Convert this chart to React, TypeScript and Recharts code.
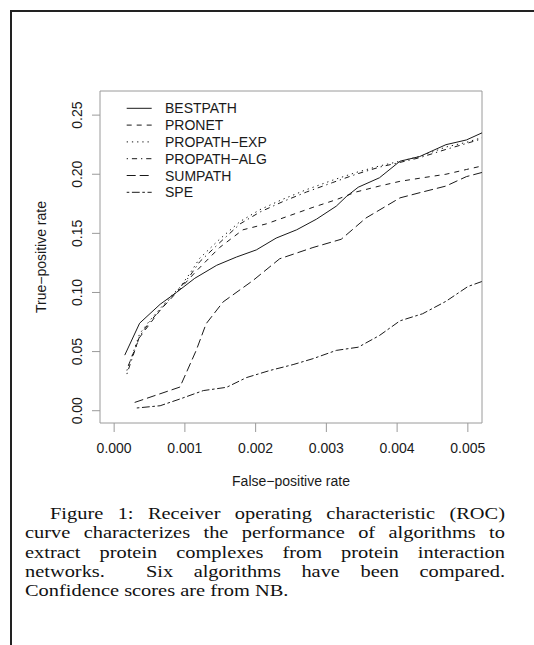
import { LineChart, Line, XAxis, YAxis, ReferenceArea, Legend } from 'recharts';

// ROC curves
const bestpathX = [0.00015, 0.00036, 0.00065, 0.00088, 0.00114, 0.00145, 0.00173, 0.00201, 0.00229, 0.00258, 0.00286, 0.00314, 0.00328, 0.00345, 0.00375, 0.00404, 0.00432, 0.00469, 0.00498, 0.0052];
const bestpathY = [0.047, 0.074, 0.09, 0.1, 0.112, 0.123, 0.13, 0.136, 0.146, 0.153, 0.162, 0.173, 0.181, 0.189, 0.197, 0.211, 0.215, 0.225, 0.229, 0.235];

const pronetX = [0.0002, 0.00036, 0.00065, 0.00093, 0.00116, 0.00149, 0.00182, 0.00215, 0.00248, 0.00281, 0.00314, 0.00342, 0.00375, 0.00404, 0.00436, 0.00469, 0.00498, 0.0052];
const pronetY = [0.038, 0.062, 0.085, 0.103, 0.118, 0.138, 0.153, 0.158, 0.165, 0.172, 0.1785, 0.185, 0.19, 0.194, 0.197, 0.2, 0.204, 0.207];

const propathX = [0.00018, 0.00036, 0.0005, 0.00081, 0.00093, 0.00107, 0.00121, 0.00149, 0.00178, 0.00206, 0.00239, 0.00272, 0.00309, 0.00342, 0.00375, 0.00404, 0.00432, 0.00469, 0.00498, 0.0052];
const propathExpY = [0.034, 0.065, 0.076, 0.0975, 0.1045, 0.116, 0.129, 0.145, 0.16, 0.17, 0.179, 0.187, 0.195, 0.2015, 0.207, 0.211, 0.215, 0.223, 0.227, 0.231];
const propathAlgY = [0.031, 0.063, 0.075, 0.096, 0.104, 0.114, 0.126, 0.142, 0.158, 0.168, 0.177, 0.185, 0.193, 0.2, 0.206, 0.21, 0.214, 0.221, 0.226, 0.23];

const sumpathX = [0.00029, 0.00093, 0.00116, 0.0013, 0.00154, 0.00196, 0.00234, 0.00281, 0.00321, 0.00356, 0.00404, 0.00436, 0.00469, 0.00498, 0.0052];
const sumpathY = [0.007, 0.02, 0.051, 0.0735, 0.092, 0.11, 0.1285, 0.138, 0.145, 0.163, 0.18, 0.185, 0.19, 0.198, 0.2015];

const speX = [0.00032, 0.00065, 0.00093, 0.00126, 0.00159, 0.00187, 0.0022, 0.00253, 0.00281, 0.00314, 0.00345, 0.00375, 0.00404, 0.00436, 0.00469, 0.005, 0.0052];
const speY = [0.0023, 0.0042, 0.0099, 0.017, 0.0198, 0.028, 0.034, 0.039, 0.044, 0.051, 0.0537, 0.0636, 0.076, 0.082, 0.0925, 0.105, 0.1093];

const xTicks = [0, 0.001, 0.002, 0.003, 0.004, 0.005];
const yTicks = [0, 0.05, 0.1, 0.15, 0.2, 0.25];

const captionLines = [
  'Figure 1: Receiver operating characteristic (ROC)',
  'curve characterizes the performance of algorithms to',
  'extract protein complexes from protein interaction',
  'networks.  Six algorithms have been compared.',
  'Confidence scores are from NB.',
];

const xDomain = [-0.0002, 0.0052];
const yDomain = [-0.0104, 0.2704];

const zip = (xs: number[], ys: number[]) => xs.map((x, i) => ({ x, y: ys[i] }));

const series = [
  { name: 'BESTPATH', data: zip(bestpathX, bestpathY), dash: undefined },
  { name: 'PRONET', data: zip(pronetX, pronetY), dash: '5 5' },
  { name: 'PROPATH−EXP', data: zip(propathX, propathExpY), dash: '1.3 3.9' },
  { name: 'PROPATH−ALG', data: zip(propathX, propathAlgY), dash: '1.3 3.9 5.2 3.9' },
  { name: 'SUMPATH', data: zip(sumpathX, sumpathY), dash: '9 4' },
  { name: 'SPE', data: zip(speX, speY), dash: '2.6 2.6 7.8 2.6' },
];

const font = '"Liberation Sans", Arial, sans-serif';
const ink = '#1a1a1a';
const grey = '#9a9a9a';
const stretch = 1.2;

const XTick = (p: any) => (
  <text x={p.x} y={p.y + 19} textAnchor="middle" fontSize={14} fontFamily={font} fill={ink}>
    {Number(p.payload.value).toFixed(3)}
  </text>
);

const YTick = (p: any) => {
  const bx = p.x - 8.3;
  return (
    <text x={bx} y={p.y} transform={`rotate(-90, ${bx}, ${p.y})`} textAnchor="middle" fontSize={14} fontFamily={font} fill={ink}>
      {Number(p.payload.value).toFixed(2)}
    </text>
  );
};

const XTitle = (p: any) => {
  const vb = p.viewBox || { x: 100, y: 423, width: 382 };
  return (
    <text x={vb.x + vb.width / 2} y={vb.y + 63} textAnchor="middle" fontSize={14} fontFamily={font} fill={ink}>
      False−positive rate
    </text>
  );
};

const YTitle = (p: any) => {
  const vb = p.viewBox || { x: 40, y: 91, height: 332 };
  const cx = vb.x + 5.5;
  const cy = vb.y + vb.height / 2;
  return (
    <text x={cx} y={cy} transform={`rotate(-90, ${cx}, ${cy})`} textAnchor="middle" fontSize={14} fontFamily={font} fill={ink}>
      True−positive rate
    </text>
  );
};

const LegendBox = () => (
  <svg width={200} height={110} style={{ display: 'block' }}>
    {series.map((s, i) => {
      const base = 13.3 + i * 16.8;
      return (
        <g key={s.name}>
          <line x1={6.7} x2={31.7} y1={base - 5} y2={base - 5} stroke={ink} strokeWidth={1} strokeDasharray={s.dash} />
          <text x={45} y={base} fontSize={14} fontFamily={font} fill={ink}>{s.name}</text>
        </g>
      );
    })}
  </svg>
);

export default function App() {
  return (
    <div style={{ position: 'absolute', left: 0, top: 0, width: 534, height: 645, background: '#fff', overflow: 'hidden' }}>
      <div style={{ position: 'absolute', left: 10, top: 10, width: 524, height: 0, borderTop: '2px solid #222' }} />
      <div style={{ position: 'absolute', left: 10, top: 10, width: 0, height: 635, borderLeft: '2px solid #222' }} />
      <div style={{ position: 'absolute', left: 0, top: 0 }}>
        <LineChart width={534} height={500} margin={{ top: 91, right: 52, bottom: 37, left: 40 }}>
          <XAxis
            type="number"
            dataKey="x"
            domain={xDomain}
            ticks={xTicks}
            allowDataOverflow
            height={40}
            axisLine={false}
            tickSize={9}
            tickLine={{ stroke: grey }}
            tick={<XTick />}
            label={XTitle}
          />
          <YAxis
            type="number"
            dataKey="y"
            domain={yDomain}
            ticks={yTicks}
            allowDataOverflow
            width={60}
            axisLine={false}
            tickSize={8}
            tickLine={{ stroke: grey }}
            tick={<YTick />}
            label={YTitle}
          />
          <ReferenceArea x1={xDomain[0]} x2={xDomain[1]} y1={yDomain[0]} y2={yDomain[1]} fill="none" fillOpacity={0} stroke={grey} strokeWidth={1} ifOverflow="visible" />
          {series.map((s) => (
            <Line
              key={s.name}
              data={s.data}
              dataKey="y"
              name={s.name}
              type="linear"
              stroke={ink}
              strokeWidth={1}
              strokeDasharray={s.dash}
              dot={false}
              activeDot={false}
              isAnimationActive={false}
            />
          ))}
          <Legend layout="vertical" align="center" verticalAlign="middle" content={<LegendBox />} wrapperStyle={{ position: 'absolute', left: 120, top: 100, width: 200, height: 110 }} />
        </LineChart>
      </div>
      <div
        style={{
          position: 'absolute',
          left: 25,
          top: 504.2,
          width: 480 / stretch,
          transform: `scaleX(${stretch})`,
          transformOrigin: '0 0',
          fontFamily: '"Liberation Serif", "Times New Roman", serif',
          fontSize: 17,
          lineHeight: '19.25px',
          color: '#111',
        }}
      >
        {captionLines.map((t, i) => (
          <div
            key={i}
            style={{
              textAlign: i < 4 ? 'justify' : 'left',
              textAlignLast: i < 4 ? 'justify' : 'left',
              textIndent: i === 0 ? 25 / stretch : 0,
              whiteSpace: 'pre',
            }}
          >
            {t}
          </div>
        ))}
      </div>
    </div>
  );
}
